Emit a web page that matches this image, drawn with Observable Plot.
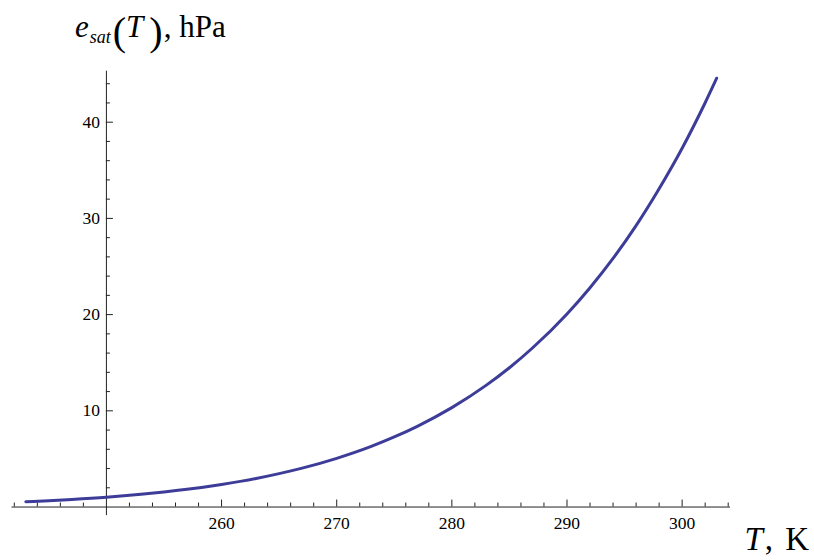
<!DOCTYPE html>
<html>
<head>
<meta charset="utf-8">
<script src="https://cdn.jsdelivr.net/npm/d3@7"></script>
<script src="https://cdn.jsdelivr.net/npm/@observablehq/plot@0.6"></script>
<style>
  html, body { margin: 0; padding: 0; background: #fff; }
  svg { display: block; }
</style>
</head>
<body>
<div id="chart"></div>
<script>
// Temperature (K) and saturation vapour pressure (hPa)
const temperature = [243, 245, 247, 250, 253, 255, 257, 260, 263, 265, 267, 270, 273, 275, 277, 280, 283, 285, 287, 290, 292, 294, 296, 298, 300, 302, 303];
const esat = [0.55, 0.66, 0.79, 1.02, 1.32, 1.56, 1.84, 2.35, 2.97, 3.47, 4.04, 5.06, 6.30, 7.28, 8.39, 10.33, 12.67, 14.48, 16.53, 20.07, 22.80, 25.84, 29.25, 33.08, 37.29, 42.02, 44.57];

// Tick values
const xMajor = [260, 270, 280, 290, 300];
const xMinor = [242, 244, 246, 248, 252, 254, 256, 258, 262, 264, 266, 268, 272, 274, 276, 278, 282, 284, 286, 288, 292, 294, 296, 298, 302, 304];
const yMajor = [10, 20, 30, 40];
const yMinor = [2, 4, 6, 8, 12, 14, 16, 18, 22, 24, 26, 28, 32, 34, 36, 38, 42, 44];
const xOrigin = 250;
const yOrigin = 0;

const data = temperature.map((t, i) => ({T: t, e: esat[i]}));

const W = 814, H = 560;
const mL = 11.5, mR = 84, mT = 70.7, mB = 44.9;
const xDom = [241.8, 304.2], yDom = [-0.89, 45.3];
const kx = (W - mL - mR) / (xDom[1] - xDom[0]);
const ky = (H - mT - mB) / (yDom[1] - yDom[0]);
const axisColor = "#222";
const font = "'Liberation Serif', 'Times New Roman', Times, serif";

const plot = Plot.plot({
  width: W, height: H,
  marginLeft: mL, marginRight: mR, marginTop: mT, marginBottom: mB,
  x: {domain: xDom, axis: null},
  y: {domain: yDom, axis: null},
  style: {fontFamily: font, background: "white"},
  marks: [
    Plot.ruleY([yOrigin], {stroke: axisColor, strokeWidth: 1}),
    Plot.ruleX([xOrigin], {stroke: axisColor, strokeWidth: 1}),
    Plot.ruleX(xMajor, {x: d => d, y1: () => yOrigin, y2: () => yOrigin + 7 / ky, stroke: axisColor}),
    Plot.ruleX(xMinor, {x: d => d, y1: () => yOrigin, y2: () => yOrigin + 4 / ky, stroke: axisColor}),
    Plot.ruleY(yMajor, {y: d => d, x1: () => xOrigin, x2: () => xOrigin + 7 / kx, stroke: axisColor}),
    Plot.ruleY(yMinor, {y: d => d, x1: () => xOrigin, x2: () => xOrigin + 4 / kx, stroke: axisColor}),
    Plot.text(xMajor, {x: d => d, y: () => yOrigin, text: d => String(d), dy: 21.8, lineAnchor: "bottom", textAnchor: "middle", fontSize: 17.5, fontFamily: font, fill: "black"}),
    Plot.text(yMajor, {x: () => xOrigin, y: d => d, text: d => String(d), dx: -6.5, lineAnchor: "middle", textAnchor: "end", fontSize: 17.5, fontFamily: font, fill: "black"}),
    Plot.line(data, {x: "T", y: "e", stroke: "#3d3d99", strokeWidth: 3, curve: "monotone-x"})
  ]
});

document.getElementById("chart").appendChild(plot);

const svg = d3.select(plot);

// Y axis label: e_sat(T), hPa  (one text element, pieces flow naturally)
const t1 = svg.append("text")
  .attr("x", 75).attr("y", 36.7)
  .attr("text-anchor", "start")
  .attr("font-family", font).attr("font-size", 31).attr("fill", "black");
t1.append("tspan").attr("font-style", "italic").text("e");
t1.append("tspan").attr("font-style", "italic").attr("font-size", 18).attr("dy", 6.6).attr("dx", 1).text("sat");
t1.append("tspan").attr("font-size", 40).attr("dy", 1.5).attr("dx", 2).text("(");
t1.append("tspan").attr("font-style", "italic").attr("dy", -8.1).text("T");
t1.append("tspan").attr("font-size", 40).attr("dy", 8.1).attr("dx", 6).text(")");
t1.append("tspan").attr("dy", -8.1).attr("dx", 1).text(",");
t1.append("tspan").text("\u00a0hPa");

// X axis label: T, K
const t2 = svg.append("text")
  .attr("x", 744.5).attr("y", 550)
  .attr("text-anchor", "start")
  .attr("font-family", font).attr("font-size", 33).attr("fill", "black");
t2.append("tspan").attr("font-style", "italic").text("T");
t2.append("tspan").attr("dx", 2).text(",");
t2.append("tspan").attr("dx", 4).text("\u00a0K");
</script>
</body>
</html>
